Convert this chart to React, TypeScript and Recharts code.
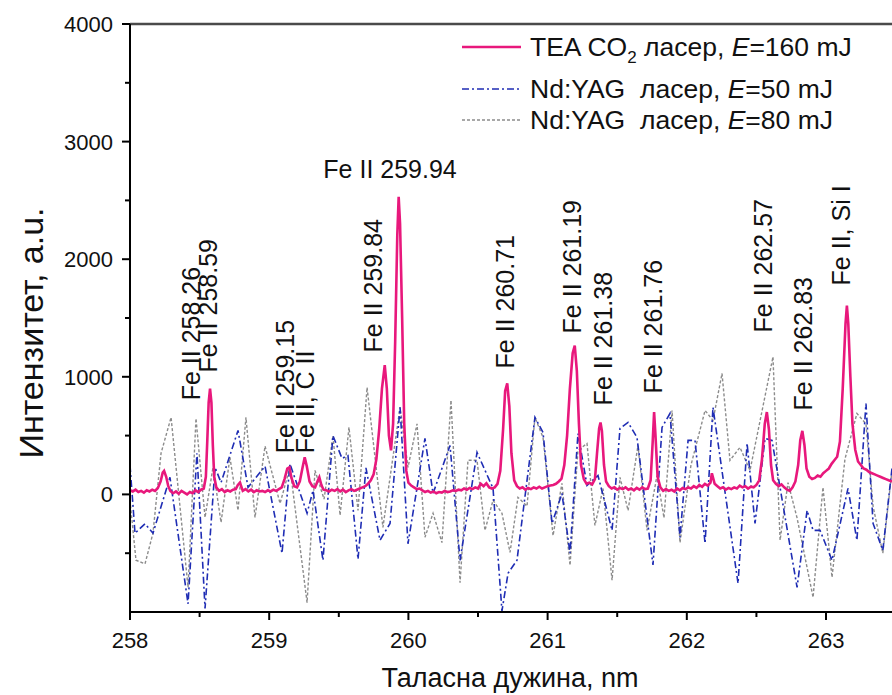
import React from 'react';
import {
  LineChart,
  Line,
  XAxis,
  YAxis,
  ReferenceLine,
  ReferenceDot,
  Customized,
} from 'recharts';

const FONT = '"Liberation Sans", Arial, Helvetica, sans-serif';

// TEA CO2 laser spectrum, E = 160 mJ
const co2Wavelength = [
  258.0, 258.02, 258.04, 258.06, 258.08, 258.1, 258.12, 258.14, 258.16, 258.18,
  258.2, 258.22, 258.235, 258.245, 258.26, 258.275, 258.29, 258.31, 258.33, 258.35,
  258.37, 258.39, 258.41, 258.43, 258.45, 258.47, 258.49, 258.51, 258.53, 258.545,
  258.555, 258.565, 258.575, 258.585, 258.595, 258.605, 258.62, 258.64, 258.66, 258.68,
  258.7, 258.72, 258.74, 258.76, 258.775, 258.79, 258.81, 258.83, 258.85, 258.87,
  258.89, 258.91, 258.93, 258.95, 258.97, 258.99, 259.01, 259.03, 259.05, 259.07,
  259.09, 259.11, 259.13, 259.145, 259.16, 259.18, 259.2, 259.22, 259.24, 259.255,
  259.27, 259.29, 259.31, 259.33, 259.35, 259.36, 259.375, 259.39, 259.41, 259.43,
  259.45, 259.47, 259.49, 259.51, 259.53, 259.55, 259.57, 259.59, 259.61, 259.63,
  259.65, 259.67, 259.69, 259.71, 259.73, 259.75, 259.77, 259.79, 259.81, 259.83,
  259.845, 259.86, 259.875, 259.89, 259.905, 259.92, 259.93, 259.94, 259.955, 259.97,
  259.985, 260.0, 260.02, 260.04, 260.06, 260.08, 260.1, 260.12, 260.14, 260.16,
  260.18, 260.2, 260.22, 260.24, 260.26, 260.28, 260.3, 260.32, 260.34, 260.36,
  260.38, 260.4, 260.42, 260.44, 260.46, 260.48, 260.5, 260.52, 260.54, 260.56,
  260.58, 260.6, 260.62, 260.64, 260.66, 260.68, 260.695, 260.71, 260.725, 260.74,
  260.76, 260.78, 260.8, 260.82, 260.84, 260.86, 260.88, 260.9, 260.92, 260.94,
  260.96, 260.98, 261.0, 261.02, 261.04, 261.06, 261.08, 261.1, 261.12, 261.14,
  261.16, 261.18, 261.195, 261.21, 261.225, 261.24, 261.26, 261.28, 261.3, 261.32,
  261.34, 261.355, 261.37, 261.38, 261.39, 261.405, 261.42, 261.44, 261.46, 261.48,
  261.5, 261.52, 261.54, 261.56, 261.58, 261.6, 261.62, 261.64, 261.66, 261.68,
  261.7, 261.72, 261.74, 261.755, 261.765, 261.775, 261.79, 261.81, 261.83, 261.85,
  261.87, 261.89, 261.91, 261.93, 261.95, 261.97, 261.99, 262.01, 262.03, 262.05,
  262.07, 262.09, 262.11, 262.13, 262.15, 262.17, 262.18, 262.2, 262.22, 262.24,
  262.26, 262.28, 262.3, 262.32, 262.34, 262.36, 262.38, 262.4, 262.42, 262.44,
  262.46, 262.48, 262.5, 262.52, 262.54, 262.56, 262.575, 262.59, 262.605, 262.62,
  262.64, 262.66, 262.68, 262.7, 262.72, 262.74, 262.76, 262.78, 262.8, 262.815,
  262.83, 262.845, 262.86, 262.88, 262.9, 262.92, 262.94, 262.96, 262.98, 263.0,
  263.02, 263.04, 263.06, 263.08, 263.1, 263.12, 263.14, 263.15, 263.16, 263.175,
  263.19, 263.21, 263.23, 263.25, 263.27, 263.29, 263.31, 263.33, 263.35, 263.37,
  263.39, 263.41, 263.43, 263.45, 263.474,
];
const co2Intensity = [
  35, 25, 40, 20, 30, 15, 35, 25, 40, 30,
  55, 110, 185, 200, 150, 70, 30, 10, 25, 5,
  30, 15, 0, 20, 10, 35, 20, 40, 50, 150,
  450, 780, 900, 780, 420, 150, 60, 30, 45, 20,
  35, 25, 40, 45, 80, 100, 30, 45, 25, 40,
  20, 35, 25, 30, 20, 35, 25, 40, 30, 45,
  60, 130, 220, 230, 140, 70, 60, 110, 230, 315,
  240, 110, 70, 60, 120, 145, 80, 40, 35, 25,
  40, 30, 45, 25, 40, 20, 35, 45, 30, 40,
  50, 60, 70, 90, 120, 170, 300, 550, 900, 1100,
  900, 500, 375, 600, 1300, 2200, 2530, 2300, 1500, 600,
  200, 100, 75, 60, 45, 50, 35, 20, 30, 15,
  25, 10, 20, 15, 30, 20, 25, 35, 30, 40,
  35, 50, 40, 55, 45, 60, 50, 90, 70, 95,
  60, 50, 60, 90, 200, 550, 880, 945, 750, 350,
  120, 70, 50, 60, 40, 55, 45, 60, 50, 65,
  50, 60, 70, 75, 80, 90, 110, 135, 250, 500,
  900, 1200, 1266, 1050, 600, 250, 130, 90, 100, 85,
  130, 350, 560, 612, 540, 250, 110, 70, 50, 60,
  40, 55, 45, 60, 40, 50, 35, 55, 40, 60,
  45, 50, 120, 450, 700, 500, 150, 60, 30, 45,
  30, 40, 25, 50, 35, 55, 45, 60, 50, 70,
  55, 80, 65, 90, 75, 100, 180, 90, 70, 50,
  60, 40, 55, 45, 60, 50, 75, 60, 70, 50,
  65, 60, 80, 120, 300, 600, 700, 550, 250, 120,
  90, 70, 85, 60, 40, 30, 60, 110, 250, 460,
  540, 420, 220, 150, 130, 140, 160, 150, 180, 200,
  220, 260, 290, 320, 450, 900, 1450, 1606, 1450, 1000,
  600, 380, 280, 250, 220, 210, 190, 180, 170, 160,
  150, 140, 130, 120, 110,
];

// Nd:YAG laser spectrum, E = 50 mJ
const yag50Wavelength = [
  258.0, 258.036, 258.108, 258.165, 258.287, 258.417, 258.481, 258.539, 258.611, 258.654,
  258.776, 258.848, 258.97, 259.092, 259.149, 259.272, 259.315, 259.386, 259.458, 259.523,
  259.566, 259.638, 259.695, 259.796, 259.868, 259.94, 259.997, 260.119, 260.177, 260.299,
  260.371, 260.493, 260.608, 260.672, 260.716, 260.78, 260.909, 260.967, 261.032, 261.103,
  261.161, 261.218, 261.283, 261.362, 261.463, 261.52, 261.578, 261.642, 261.757, 261.822,
  261.879, 261.951, 262.009, 262.059, 262.131, 262.188, 262.368, 262.433, 262.49, 262.562,
  262.612, 262.792, 262.864, 262.907, 262.957, 263.043, 263.158, 263.222, 263.287, 263.338,
  263.408, 263.474,
];
const yag50Intensity = [
  250, -330, -250, -330, 145, -930, 350, -970, 230, 100,
  544, 60, 240, -500, 260, -160, 34, -560, 500, 306,
  330, -550, 225, -390, -247, 740, -420, 476, 8, 416,
  -560, 357, 51, -990, -670, -560, 655, 527, -247, 8,
  -500, 518, 77, 160, -306, 561, 612, 485, -600, 570,
  688, -365, 459, 459, -417, 740, -757, 433, -247, 476,
  459, -790, -136, -306, -306, -560, 51, -390, 773, -247,
  -476, 221,
];

// Nd:YAG laser spectrum, E = 80 mJ
const yag80Wavelength = [
  258.0, 258.043, 258.108, 258.165, 258.223, 258.295, 258.417, 258.474, 258.539, 258.596,
  258.654, 258.718, 258.776, 258.833, 258.898, 258.97, 259.078, 259.149, 259.272, 259.329,
  259.394, 259.458, 259.509, 259.573, 259.638, 259.703, 259.817, 259.94, 259.997, 260.062,
  260.119, 260.177, 260.241, 260.306, 260.371, 260.428, 260.493, 260.55, 260.608, 260.672,
  260.73, 260.787, 260.852, 260.909, 260.967, 261.039, 261.103, 261.161, 261.218, 261.283,
  261.34, 261.398, 261.463, 261.52, 261.578, 261.649, 261.714, 261.786, 261.836, 261.894,
  261.951, 262.03, 262.131, 262.188, 262.253, 262.31, 262.382, 262.454, 262.619, 262.67,
  262.727, 262.792, 262.907, 262.978, 263.043, 263.136, 263.222, 263.287, 263.338, 263.408,
  263.474,
];
const yag80Intensity = [
  -50, -560, -590, -330, 350, 655, -790, 646, -196, 230,
  -238, 315, -136, 655, -196, 410, -77, 230, -920, 204,
  -40, 500, -178, 570, -136, 910, -280, 740, 230, 600,
  -365, -160, -410, 800, -750, 290, 290, -306, -50, -160,
  -493, -25, -100, 655, 485, -350, 94, -603, 374, 433,
  -264, 50, -730, 145, -136, 416, -306, 160, -200, 714,
  -410, 250, 714, 629, 1028, 290, 400, 204, 1170, -390,
  100, -200, -875, 60, -705, 300, 688, 600, -100, -500,
  204,
];

// Spectral line identifications: text and anchor point (wavelength, intensity)
const lineLabels = ['Fe II 258.26', 'Fe II 258.59', 'Fe II 259.15', 'Fe II, C II', 'Fe II 259.84', 'Fe II 260.71', 'Fe II 261.19', 'Fe II 261.38', 'Fe II 261.76', 'Fe II 262.57', 'Fe II 262.83', 'Fe II, Si I'];
const lineLabelX = [258.438, 258.56, 259.113, 259.257, 259.746, 260.694, 261.175, 261.398, 261.757, 262.547, 262.835, 263.108];
const lineLabelY = [800, 1037, 349, 349, 1207, 1071, 1369, 757, 859, 1377, 714, 1777];
const topLabel = 'Fe II 259.94';
const topLabelX = 259.868;
const topLabelY = 2687;

const xTicks = [258, 258.5, 259, 259.5, 260, 260.5, 261, 261.5, 262, 262.5, 263];
const yTicks = [-500, 0, 500, 1000, 1500, 2000, 2500, 3000, 3500, 4000];

const seriesNames = ['TEA CO2 ласер', 'Nd:YAG  ласер', 'Nd:YAG  ласер'];
const seriesEnergy = ['160 mJ', '50 mJ', '80 mJ'];

const toPoints = (xs: number[], ys: number[]) => xs.map((x, i) => ({ x, v: ys[i] }));
const co2Data = toPoints(co2Wavelength, co2Intensity);
const yag50Data = toPoints(yag50Wavelength, yag50Intensity);
const yag80Data = toPoints(yag80Wavelength, yag80Intensity);

const PINK = '#e8187c';
const BLUE = '#1f2db4';
const GRAY = '#8c8c8c';
const styles = [
  { color: PINK, width: 2.6, dash: undefined as string | undefined },
  { color: BLUE, width: 1.6, dash: '7 3 2 3' },
  { color: GRAY, width: 1.4, dash: '3 2' },
];

const TICK_FONT = 22;
const LABEL_FONT = 25;

const XTick = (props: any) => {
  const { x, y, payload } = props;
  const major = Number.isInteger(payload.value);
  return (
    <g>
      <line x1={x} y1={y} x2={x} y2={y + (major ? 8 : 5)} stroke="#000" strokeWidth={2} />
      {major && (
        <text x={x} y={y + 36} textAnchor="middle" fontSize={TICK_FONT} fontFamily={FONT} fill="#111">
          {payload.value}
        </text>
      )}
    </g>
  );
};

const YTick = (props: any) => {
  const { x, y, payload } = props;
  const major = payload.value % 1000 === 0;
  return (
    <g>
      <line x1={x - (major ? 8 : 5)} y1={y} x2={x} y2={y} stroke="#000" strokeWidth={2} />
      {major && (
        <text x={x - 17} y={y} dy="0.36em" textAnchor="end" fontSize={TICK_FONT} fontFamily={FONT} fill="#111">
          {payload.value}
        </text>
      )}
    </g>
  );
};

const VerticalLabel = (text: string) => (props: any) => {
  const { cx, cy } = props;
  return (
    <text
      x={cx}
      y={cy}
      dy="0.36em"
      transform={`rotate(-90, ${cx}, ${cy})`}
      textAnchor="start"
      fontSize={LABEL_FONT}
      fontFamily={FONT}
      fill="#111"
    >
      {text}
    </text>
  );
};

const HorizontalLabel = (text: string) => (props: any) => {
  const { cx, cy } = props;
  return (
    <text x={cx} y={cy} textAnchor="middle" fontSize={LABEL_FONT} fontFamily={FONT} fill="#111">
      {text}
    </text>
  );
};

const LegendBox = () => {
  const rows = [47, 89, 120];
  return (
    <g fontFamily={FONT} fontSize={26.5} fill="#111">
      {rows.map((ry, i) => (
        <g key={i}>
          <line
            x1={462}
            y1={ry}
            x2={521}
            y2={ry}
            stroke={styles[i].color}
            strokeWidth={i === 0 ? 2.6 : 1.5}
            strokeDasharray={styles[i].dash}
          />
          {i === 0 ? (
            <text x={530} y={ry + 9}>
              <tspan>TEA CO</tspan>
              <tspan dy={7} fontSize={17}>2</tspan>
              <tspan dy={-7}> ласер, </tspan>
              <tspan fontStyle="italic">E</tspan>
              <tspan>={seriesEnergy[i]}</tspan>
            </text>
          ) : (
            <text x={530} y={ry + 9} xmlSpace="preserve" style={{ whiteSpace: 'pre' }}>
              <tspan>{seriesNames[i]}, </tspan>
              <tspan fontStyle="italic">E</tspan>
              <tspan>={seriesEnergy[i]}</tspan>
            </text>
          )}
        </g>
      ))}
    </g>
  );
};

const YTitle = (props: any) => {
  const { viewBox } = props;
  const cx = 31;
  const cy = viewBox.y + viewBox.height / 2 + 15;
  return (
    <text
      x={cx}
      y={cy}
      dy="0.36em"
      transform={`rotate(-90, ${cx}, ${cy})`}
      textAnchor="middle"
      fontSize={34}
      fontFamily={FONT}
      fill="#111"
    >
      Интензитет, a.u.
    </text>
  );
};

const XTitle = (props: any) => {
  const { viewBox } = props;
  return (
    <text x={510} y={viewBox.y + 75} textAnchor="middle" fontSize={27} fontFamily={FONT} fill="#111">
      Таласна дужина, nm
    </text>
  );
};

export default function App() {
  return (
    <div style={{ position: 'absolute', left: 0, top: 0, width: 892, height: 695, background: '#fff' }}>
      <LineChart width={892} height={695} margin={{ top: 24, right: 0, bottom: 0, left: 0 }}>
        <XAxis
          type="number"
          dataKey="x"
          domain={[258, 263.474]}
          allowDataOverflow
          ticks={xTicks}
          interval={0}
          height={83}
          tickSize={0}
          tickMargin={0}
          tickLine={false}
          tick={<XTick />}
          axisLine={{ stroke: '#000', strokeWidth: 2 }}
          label={<XTitle />}
        />
        <YAxis
          type="number"
          domain={[-1000, 4000]}
          allowDataOverflow
          ticks={yTicks}
          interval={0}
          width={130}
          tickSize={0}
          tickMargin={0}
          tickLine={false}
          tick={<YTick />}
          axisLine={{ stroke: '#000', strokeWidth: 2 }}
          label={<YTitle />}
        />
        <ReferenceLine y={4000} stroke="#4a4a4a" strokeWidth={2.5} />
        <Line
          data={yag80Data}
          dataKey="v"
          type="linear"
          stroke={GRAY}
          strokeWidth={styles[2].width}
          strokeDasharray={styles[2].dash}
          dot={false}
          isAnimationActive={false}
        />
        <Line
          data={yag50Data}
          dataKey="v"
          type="linear"
          stroke={BLUE}
          strokeWidth={styles[1].width}
          strokeDasharray={styles[1].dash}
          dot={false}
          isAnimationActive={false}
        />
        <Line
          data={co2Data}
          dataKey="v"
          type="linear"
          stroke={PINK}
          strokeWidth={styles[0].width}
          dot={false}
          isAnimationActive={false}
        />
        {lineLabels.map((t, i) => (
          <ReferenceDot
            key={t + i}
            x={lineLabelX[i]}
            y={lineLabelY[i]}
            r={0}
            shape={VerticalLabel(t)}
          />
        ))}
        <ReferenceDot x={topLabelX} y={topLabelY} r={0} shape={HorizontalLabel(topLabel)} />
        <Customized component={LegendBox} />
      </LineChart>
    </div>
  );
}
